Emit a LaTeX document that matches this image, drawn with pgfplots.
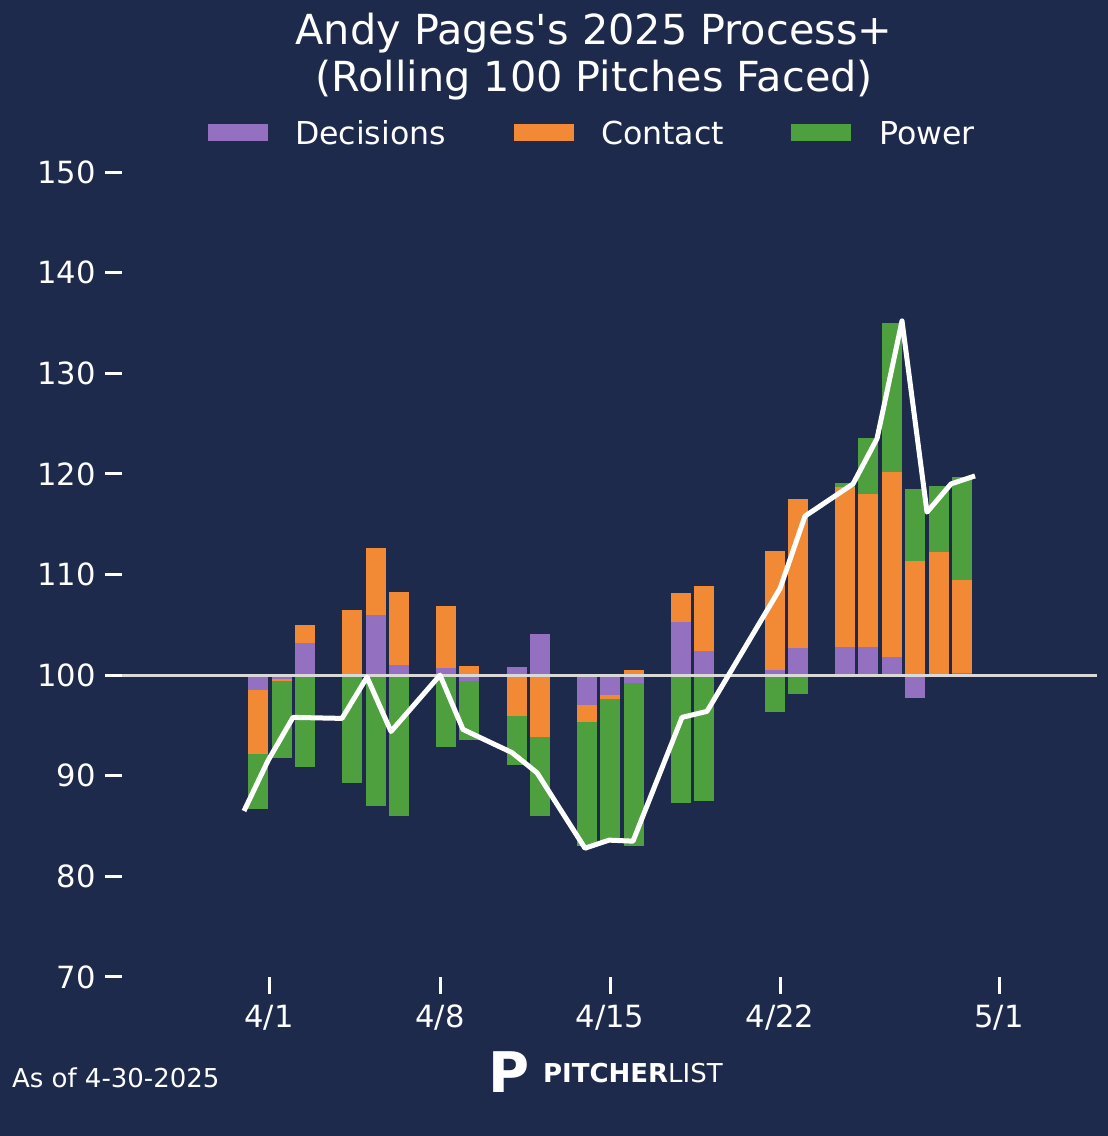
\documentclass[border=0pt]{standalone}
\usepackage{pgfplots}
\pgfplotsset{compat=1.18}
\usepackage{pgfplotstable}
\usepackage{fontspec}
\setmainfont{DejaVu Sans}
\newfontfamily\plainfont[Ligatures=NoCommon]{DejaVu Sans}
\definecolor{bg}{HTML}{1D2A4C}
\definecolor{dec}{HTML}{9370C0}
\definecolor{con}{HTML}{F28A35}
\definecolor{pow}{HTML}{4E9F3D}
\pgfplotstableread{
x h d c p
258 100 98.5 92.2 86.7
282 100 99.6 99.5 91.8
305 100 103.2 105.0 90.9
352 100 99.8 106.5 89.3
376 100 106.0 112.6 87.0
399 100 101.0 108.3 86.0
446 100 100.7 106.9 92.9
469 100 99.4 100.9 93.6
517 100 100.8 95.9 91.1
540 100 104.1 93.9 86.0
587 100 97.0 95.3 83.0
610 100 98.0 97.6 83.5
634 100 99.2 100.5 83.0
681 100 105.3 108.2 87.3
704 100 102.4 108.9 87.5
775 100 100.5 112.3 96.3
798 100 102.7 117.5 98.1
845 100 102.8 118.7 119.1
868 100 102.8 118.0 123.6
892 100 101.8 120.2 135.0
915 100 97.7 111.3 118.5
939 100 100.1 112.2 118.8
962 100 100.2 109.5 119.7
}\bars
\pgfplotstableread{
x y
244 86.5
268 91.5
293 95.8
342 95.7
367 99.8
391 94.4
440 100.0
463 94.6
512 92.3
537 90.3
585 82.8
609 83.6
633 83.5
682 95.8
707 96.4
780 108.6
805 115.8
853 119.0
877 123.5
902 135.2
927 116.2
951 119.0
975 119.8
}\line
\begin{document}
\begin{tikzpicture}
\useasboundingbox (0,0) rectangle (554pt,568pt);
\fill[bg] (0,0) rectangle (554pt,568pt);
\begin{axis}[
  at={(61pt,79.5pt)}, anchor=south west,
  scale only axis, width=487.5pt, height=402.5pt,
  xmin=122, xmax=1097, ymin=70, ymax=150,
  axis line style={draw=none},
  ytick={70,80,...,150}, xtick={269,440,610,780,999},
  xticklabels={4/1,4/8,4/15,4/22,5/1},
  tick align=outside, major tick length=8.5pt,
  tick style={white, line width=1.5pt},
  xtick pos=bottom, ytick pos=left,
  tick label style={white, font=\fontsize{15.3}{17}\selectfont},
  yticklabel style={xshift=-1pt},
  xticklabel style={yshift=-2pt},
  /pgf/number format/assume math mode=true,
  clip=false,
]
\newcommand\seg[3]{\addplot[draw=none, mark=none, error bars/.cd, y dir=both, y explicit, error mark=none,
   error bar style={#3, line width=10pt}] table[x=x, y expr={(\thisrow{#1}+\thisrow{#2})/2}, y error expr={abs(\thisrow{#2}-\thisrow{#1})/2}] {\bars};}
\seg{c}{p}{pow}
\seg{d}{c}{con}
\seg{h}{d}{dec}
\addplot[line width=1.5pt, color=black!15, mark=none] coordinates {(122,100) (1097,100)};
\addplot[line width=2.5pt, white, mark=none, line join=round] table[x=x,y=y] {\line};
\end{axis}
\node[white, font=\fontsize{20.7}{23}\selectfont] at (297pt,551.5pt) {Andy Pages\textquotesingle s 2025 Process+};
\node[white, font=\fontsize{20.7}{23}\selectfont] at (297pt,528pt) {(Rolling 100 Pitches Faced)};
\begin{scope}[font=\fontsize{15.8}{17}\selectfont, white]
\fill[dec] (104pt,497.5pt) rectangle (134pt,506pt);
\node[anchor=west] at (144pt,501.5pt) {Decisions};
\fill[con] (257pt,497.5pt) rectangle (287pt,506pt);
\node[anchor=west] at (297pt,501.5pt) {Contact};
\fill[pow] (395.5pt,497.5pt) rectangle (425.5pt,506pt);
\node[anchor=west] at (436pt,501.5pt) {Power};
\end{scope}
\node[white, anchor=west, font=\fontsize{13}{15}\selectfont] at (2.5pt,29pt) {As of 4-30-2025};
\node[white, font=\bfseries\fontsize{28}{30}\selectfont] at (254.5pt,32pt) {P};
\node[white, anchor=west, font=\fontsize{13}{15}\selectfont] at (268pt,31.5pt) {\textbf{PITCHER}LIST};
\end{tikzpicture}
\end{document}
